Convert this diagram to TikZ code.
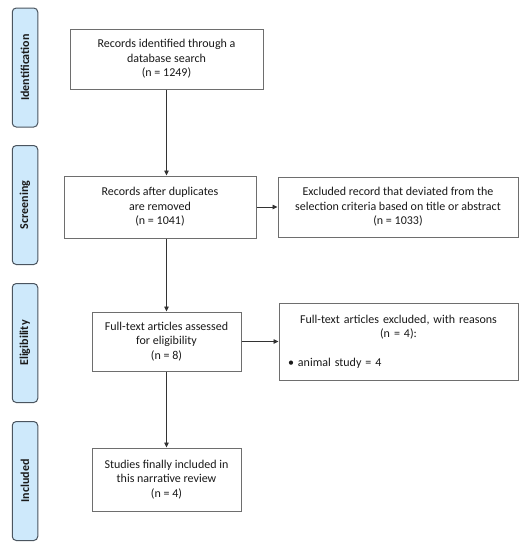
\documentclass[tikz,border=0pt]{standalone}
\usepackage{fontspec}
\setmainfont{Carlito}
\usetikzlibrary{arrows.meta}
\definecolor{sidefill}{RGB}{206,233,251}
\definecolor{sidedraw}{RGB}{75,85,95}
\definecolor{boxdraw}{RGB}{110,110,110}
\tikzset{
  phase/.style={draw=sidedraw, line width=1pt, fill=sidefill, rounded corners=4pt,
    minimum width=25.5pt, minimum height=119pt, inner sep=0pt},
  phasetext/.style={rotate=90, font=\fontsize{12}{14}\selectfont\bfseries, text=black!90},
  stepbox/.style={draw=boxdraw, line width=1pt, fill=white, align=center, inner sep=2pt,
    font=\fontsize{12}{14.5}\selectfont, text=black!90},
  conn/.style={draw=black!80, line width=0.8pt, -{Triangle[length=5pt,width=4.5pt]}}
}
\begin{document}
\begin{tikzpicture}[x=1pt,y=-1pt]
\useasboundingbox (0,0) rectangle (524,550);
% phase labels
\node[phase] (pid) at (25,67.5) {};
\node[phasetext] (tid) at (pid.center) {Identification};
\node[phase] (psc) at (25,205) {};
\node[phasetext] (tsc) at (psc.center) {Screening};
\node[phase] (pel) at (25,343) {};
\node[phasetext] (tel) at (pel.center) {Eligibility};
\node[phase] (pin) at (25,481) {};
\node[phasetext] (tin) at (pin.center) {Included};
% boxes
\node[stepbox, minimum width=193pt, minimum height=60pt] (b1) at (166.5,59)
  {Records identified through a\\database search\\(n = 1249)};
\node[stepbox, minimum width=192pt, minimum height=62pt] (b2) at (160,207)
  {Records after duplicates\\are removed\\(n = 1041)};
\node[stepbox, minimum width=240pt, minimum height=60pt] (e1) at (398,207)
  {Excluded record that deviated from the\\selection criteria based on title or abstract\\(n = 1033)};
\node[stepbox, minimum width=149pt, minimum height=59pt] (b3) at (166.5,341.5)
  {Full-text articles assessed\\for eligibility\\(n = 8)};
\node[stepbox, minimum width=239pt, minimum height=77pt, text width=233pt] (e2) at (398.5,341.5)
  {Full-text articles excluded, with reasons\\(n = 4):\\[14pt]\makebox[\linewidth][l]{\hspace{6pt}\textbullet\ animal study = 4}};
\node[stepbox, minimum width=149pt, minimum height=63pt] (b4) at (166.5,479.5)
  {Studies finally included in\\this narrative review\\(n = 4)};
% connectors
\draw[conn] (b1.south) -- (b1.south |- b2.north);
\draw[conn] (b3.north |- b2.south) -- (b3.north);
\draw[conn] (b3.south) -- (b4.north);
\draw[conn] (b2.east) -- (e1.west);
\draw[conn] (b3.east) -- (b3.east -| e2.west);
\end{tikzpicture}
\end{document}
